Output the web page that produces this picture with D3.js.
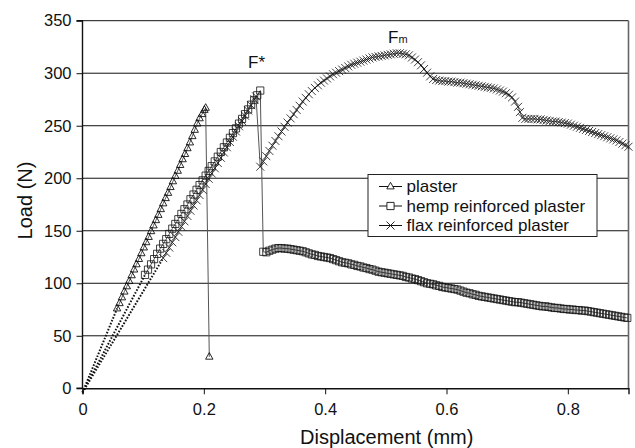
<!DOCTYPE html>
<html>
<head>
<meta charset="utf-8">
<script src="https://cdn.jsdelivr.net/npm/d3@7"></script>
<style>
  html, body { margin: 0; padding: 0; background: #fff; }
  svg { display: block; font-family: "Liberation Sans", Arial, sans-serif; }
</style>
</head>
<body>
<svg id="chart" width="635" height="448"></svg>
<script>
// lead-in segments from the origin (drawn dotted)
const plasterLead = [[0, -4], [0.057, 76]];
const hempLead = [[0, -4], [0.103, 108]];
const flaxLead = [[0, -4], [0.133, 124]];

const plasterPts = [
    [0.057, 76], [0.061, 81], [0.065, 86.5], [0.069, 92], [0.073, 97], [0.077, 102],
    [0.081, 107.5], [0.085, 113], [0.089, 118], [0.093, 123], [0.097, 128.5], [0.101, 134],
    [0.105, 139], [0.109, 144], [0.113, 149.5], [0.117, 155], [0.121, 160], [0.125, 165],
    [0.129, 170.5], [0.133, 176], [0.137, 181], [0.141, 186], [0.145, 191.5], [0.149, 197],
    [0.153, 202], [0.157, 207], [0.161, 212.5], [0.165, 218], [0.169, 223], [0.173, 228.5],
    [0.177, 234], [0.181, 240], [0.185, 246], [0.189, 252], [0.193, 257], [0.197, 261],
    [0.201, 265], [0.203, 267], [0.209, 30]
];

const hempPts = [
    [0.103, 108], [0.108, 113], [0.113, 118], [0.118, 123], [0.123, 128], [0.128, 133],
    [0.133, 137.5], [0.138, 142], [0.143, 147], [0.148, 152], [0.153, 156.5], [0.158, 161],
    [0.163, 166], [0.168, 170.5], [0.173, 175], [0.178, 180], [0.183, 184.5], [0.188, 189],
    [0.193, 193.5], [0.198, 198], [0.203, 202.5], [0.208, 207], [0.213, 211.5], [0.218, 216],
    [0.223, 220.5], [0.228, 225], [0.233, 229.5], [0.238, 234], [0.243, 238.5], [0.248, 243],
    [0.253, 247.5], [0.258, 252], [0.263, 256.5], [0.268, 261], [0.273, 265.5], [0.278, 270],
    [0.283, 274.5], [0.288, 279], [0.293, 283.5],
    [0.298, 130], [0.303, 129.5], [0.308, 131], [0.313, 132], [0.318, 133], [0.323, 133.5],
    [0.328, 133.5], [0.333, 133], [0.338, 133], [0.343, 132.5], [0.348, 132], [0.353, 131.5],
    [0.358, 131], [0.363, 130.5], [0.368, 129.5], [0.373, 128.5], [0.378, 127.5], [0.383, 127],
    [0.388, 126], [0.393, 125.5], [0.398, 125], [0.403, 124.5], [0.408, 124], [0.413, 123],
    [0.418, 122], [0.423, 121], [0.428, 120], [0.433, 119.5], [0.438, 119], [0.443, 118],
    [0.448, 117.5], [0.453, 116.5], [0.458, 116], [0.463, 115], [0.468, 114.5], [0.473, 113.5],
    [0.478, 113], [0.483, 112], [0.488, 111], [0.493, 110.5], [0.498, 110], [0.503, 109.5],
    [0.508, 109], [0.513, 108.5], [0.518, 108], [0.523, 107.5], [0.528, 107], [0.533, 106],
    [0.538, 105.5], [0.543, 104.5], [0.548, 104], [0.553, 103], [0.558, 102], [0.563, 101],
    [0.568, 100], [0.573, 99.5], [0.578, 99], [0.583, 98], [0.588, 97.5], [0.593, 96.5],
    [0.598, 96], [0.603, 95.5], [0.608, 95], [0.613, 94.5], [0.618, 94], [0.623, 93],
    [0.628, 92], [0.633, 91], [0.638, 90.5], [0.643, 89.5], [0.648, 89], [0.653, 88],
    [0.658, 87.5], [0.663, 87], [0.668, 86.5], [0.673, 86], [0.678, 85.5], [0.683, 85],
    [0.688, 84.5], [0.693, 84], [0.698, 83.5], [0.703, 83], [0.708, 82.5], [0.713, 82],
    [0.718, 82], [0.723, 81.5], [0.728, 81], [0.733, 80.5], [0.738, 80], [0.743, 79.5],
    [0.748, 79], [0.753, 78.5], [0.758, 78], [0.763, 78], [0.768, 77.5], [0.773, 77],
    [0.778, 76.5], [0.783, 76.5], [0.788, 76], [0.793, 75.5], [0.798, 75.5], [0.803, 75],
    [0.808, 75], [0.813, 74.5], [0.818, 74.5], [0.823, 74], [0.828, 74], [0.833, 73.5],
    [0.838, 73], [0.843, 72.5], [0.848, 72], [0.853, 71.5], [0.858, 71], [0.863, 70.5],
    [0.868, 70], [0.873, 69.5], [0.878, 69], [0.883, 68.5], [0.888, 68], [0.893, 67.5],
    [0.898, 67]
];

const flaxPts = [
    [0.133, 124], [0.138, 129], [0.143, 134], [0.148, 139], [0.153, 144], [0.158, 149],
    [0.163, 154], [0.168, 159], [0.173, 164], [0.178, 169], [0.183, 174], [0.188, 179],
    [0.193, 184], [0.198, 189], [0.203, 194.5], [0.208, 199.5], [0.213, 204.5], [0.218, 209.5],
    [0.223, 214.5], [0.228, 219.5], [0.233, 224.5], [0.238, 229.5], [0.243, 234.5], [0.248, 239.5],
    [0.253, 244.5], [0.258, 249.5], [0.263, 254.5], [0.268, 259.5], [0.273, 264.5], [0.278, 269.5],
    [0.283, 275], [0.286, 278],
    [0.293, 211], [0.298, 216], [0.303, 221], [0.308, 226], [0.313, 231], [0.318, 235.5],
    [0.323, 240], [0.328, 244.5], [0.333, 249], [0.338, 253], [0.343, 257], [0.348, 261],
    [0.353, 265], [0.358, 269], [0.363, 273], [0.368, 276.5], [0.373, 280], [0.378, 283],
    [0.383, 286], [0.388, 288.5], [0.393, 291], [0.398, 293], [0.403, 295], [0.408, 297],
    [0.413, 299], [0.418, 300.5], [0.423, 302], [0.428, 303.5], [0.433, 305], [0.438, 306.5],
    [0.443, 308], [0.448, 309], [0.453, 310], [0.458, 311], [0.463, 312], [0.468, 313],
    [0.473, 314], [0.478, 315], [0.483, 315.5], [0.488, 316], [0.493, 316.5], [0.498, 317],
    [0.503, 317.5], [0.508, 318], [0.513, 318.5], [0.518, 319], [0.523, 319], [0.528, 318.5],
    [0.533, 318], [0.538, 317], [0.543, 315], [0.548, 313], [0.553, 310.5], [0.558, 307.5],
    [0.563, 304], [0.568, 300.5], [0.573, 297], [0.578, 294.5], [0.583, 293.5], [0.588, 293],
    [0.593, 292.5], [0.598, 292.5], [0.603, 292], [0.608, 292], [0.613, 291.5], [0.618, 291],
    [0.623, 291], [0.628, 290.5], [0.633, 290], [0.638, 289.5], [0.643, 289], [0.648, 288.5],
    [0.653, 288], [0.658, 287.5], [0.663, 287], [0.668, 286.5], [0.673, 286], [0.678, 285.5],
    [0.683, 284.5], [0.688, 283.5], [0.693, 282.5], [0.698, 281], [0.703, 279.5], [0.708, 277],
    [0.713, 273], [0.718, 268], [0.721, 263], [0.725, 257.5], [0.730, 256.5], [0.735, 256.5],
    [0.740, 256.5], [0.745, 256.5], [0.750, 256], [0.755, 256], [0.760, 255.5], [0.765, 255],
    [0.770, 254.5], [0.775, 254], [0.780, 254], [0.785, 253.5], [0.790, 253], [0.795, 252.5],
    [0.800, 252], [0.805, 251], [0.810, 250], [0.815, 249], [0.820, 248], [0.825, 247],
    [0.830, 246], [0.835, 245], [0.840, 244], [0.845, 243], [0.850, 242], [0.855, 241],
    [0.860, 240], [0.865, 239], [0.870, 238], [0.875, 237], [0.880, 236], [0.885, 234.5],
    [0.890, 233], [0.895, 231.5], [0.900, 230]
];

const xTicks = [0, 0.2, 0.4, 0.6, 0.8];
const yTicks = [0, 50, 100, 150, 200, 250, 300, 350];
const legendLabels = ['plaster', 'hemp reinforced plaster', 'flax reinforced plaster'];

const margin = { top: 20.7, left: 82.5 };
const width = 546;
const height = 367.6;

const svg = d3.select('#chart');
const root = svg.append('g').attr('transform', `translate(${margin.left},${margin.top})`);

const x = d3.scaleLinear().domain([0, 0.9]).range([0, width]);
const y = d3.scaleLinear().domain([0, 350]).range([height, 0]);

// gridlines
root.append('g')
    .selectAll('line')
    .data(yTicks.filter(d => d > 0))
    .join('line')
    .attr('x1', 0).attr('x2', width)
    .attr('y1', d => y(d)).attr('y2', d => y(d))
    .attr('stroke', '#111').attr('stroke-width', 1);

// right border
root.append('line')
    .attr('x1', width).attr('x2', width)
    .attr('y1', 0).attr('y2', height)
    .attr('stroke', '#666').attr('stroke-width', 1.6);

const tickFont = 16.5;

const xAxis = root.append('g')
    .attr('transform', `translate(0,${height})`)
    .call(d3.axisBottom(x).tickValues(xTicks).tickSize(6).tickPadding(9)
        .tickFormat(d => d === 0 ? '0' : d3.format('.1f')(d)));
const yAxis = root.append('g')
    .call(d3.axisLeft(y).tickValues(yTicks).tickSize(6).tickPadding(5));

[xAxis, yAxis].forEach(a => {
    a.select('.domain').attr('stroke', '#111').attr('stroke-width', 1.4);
    a.selectAll('.tick line').attr('stroke', '#111');
    a.selectAll('.tick text')
        .attr('fill', '#111')
        .attr('font-size', tickFont)
        .attr('font-family', '"Liberation Sans", Arial, sans-serif');
});
yAxis.select('.domain').attr('d', `M-6,${height}H0V0H-6`);

const line = d3.line().x(d => x(d[0])).y(d => y(d[1]));

// dotted lead-in from origin
[plasterLead, hempLead, flaxLead].forEach(seg => {
    root.append('path')
        .attr('d', line(seg))
        .attr('fill', 'none')
        .attr('stroke', '#111')
        .attr('stroke-width', 2)
        .attr('stroke-dasharray', '1.6,1.6');
});

const triangle = 'M0,-4.2L3.7,2.4L-3.7,2.4Z';
const square = 'M-3.6,-3.6H3.6V3.6H-3.6Z';
const cross = 'M-4,-4L4,4M-4,4L4,-4';

const series = [
    { pts: plasterPts, shape: triangle, label: legendLabels[0], sw: 0.9 },
    { pts: hempPts, shape: square, label: legendLabels[1], sw: 0.8 },
    { pts: flaxPts, shape: cross, label: legendLabels[2], sw: 0.8 }
];

series.forEach(s => {
    root.append('path')
        .attr('d', line(s.pts))
        .attr('fill', 'none')
        .attr('stroke', '#555')
        .attr('stroke-width', 1);
    root.append('g')
        .selectAll('path')
        .data(s.pts)
        .join('path')
        .attr('transform', d => `translate(${x(d[0])},${y(d[1])})`)
        .attr('d', s.shape)
        .attr('fill', 'none')
        .attr('stroke', '#111')
        .attr('stroke-width', s.sw);
});

// annotations
root.append('text')
    .attr('x', 248 - margin.left).attr('y', 68.3 - margin.top)
    .attr('font-size', 17).attr('fill', '#111')
    .text('F*');
const fm = root.append('text')
    .attr('x', 388 - margin.left).attr('y', 42.7 - margin.top)
    .attr('font-size', 17).attr('fill', '#111');
fm.append('tspan').text('F');
fm.append('tspan').attr('font-size', 11).text('m');

// legend
const legend = svg.append('g').attr('transform', 'translate(368,174.5)');
legend.append('rect')
    .attr('width', 229).attr('height', 62)
    .attr('fill', '#fff').attr('stroke', '#222').attr('stroke-width', 1);
series.forEach((s, i) => {
    const row = legend.append('g').attr('transform', `translate(0,${12 + i * 19.5})`);
    row.append('line')
        .attr('x1', 11).attr('x2', 34)
        .attr('stroke', '#111').attr('stroke-width', 1);
    row.append('path')
        .attr('transform', 'translate(22.5,0)')
        .attr('d', s.shape)
        .attr('fill', '#fff')
        .attr('stroke', '#111').attr('stroke-width', 0.9);
    row.append('text')
        .attr('x', 38.5).attr('y', 5.5)
        .attr('font-size', 17).attr('fill', '#111')
        .text(s.label);
});

// axis titles
svg.append('text')
    .attr('x', 300).attr('y', 443.5)
    .attr('font-size', 20).attr('fill', '#111')
    .text('Displacement (mm)');
svg.append('text')
    .attr('transform', 'translate(31.5,200.5) rotate(-90)')
    .attr('text-anchor', 'middle')
    .attr('font-size', 20).attr('fill', '#111')
    .text('Load (N)');
</script>
</body>
</html>
